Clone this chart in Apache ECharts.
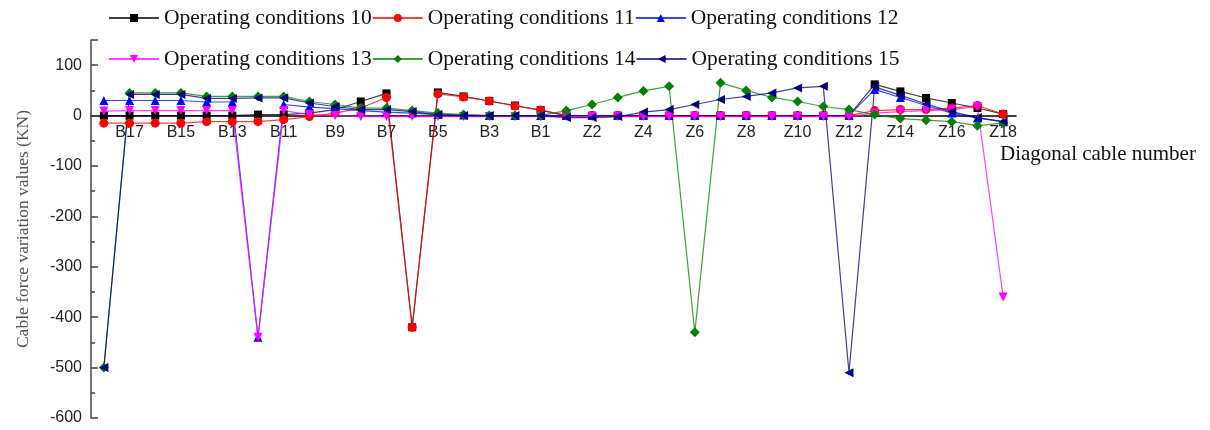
<!DOCTYPE html>
<html>
<head>
<meta charset="utf-8">
<script src="https://cdn.jsdelivr.net/npm/echarts@6/dist/echarts.min.js"></script>
<style>html,body{margin:0;padding:0;background:#fff}#c{width:1210px;height:430px}</style>
</head>
<body>
<div id="c"></div>
<script>
const categories = ['B18','B17','B16','B15','B14','B13','B12','B11','B10','B9','B8','B7','B6','B5','B4','B3','B2','B1',
  'Z1','Z2','Z3','Z4','Z5','Z6','Z7','Z8','Z9','Z10','Z11','Z12','Z13','Z14','Z15','Z16','Z17','Z18'];
const seriesNames = ['Operating conditions 10','Operating conditions 11','Operating conditions 12',
  'Operating conditions 13','Operating conditions 14','Operating conditions 15'];
const cond10 = [0,0,0,0,0,0,2,2,5,12,28,44,-420,46,38,29,20,11,0,0,0,0,0,0,0,0,0,0,0,0,62,48,35,25,15,3];
const cond11 = [-15,-15,-15,-15,-12,-12,-12,-8,-2,5,15,36,-420,43,37,29,19,11,0,0,0,0,0,0,0,0,0,0,0,0,10,12,12,15,20,3];
const cond12 = [30,30,30,30,27,27,-440,22,17,14,10,7,5,2,1,0,0,0,0,0,0,0,0,0,0,0,0,0,0,0,52,36,20,5,-5,-12];
const cond13 = [9,10,10,10,10,10,-440,10,2,0,-2,-2,-2,-2,-2,-2,-2,-2,-2,-2,-2,-2,-2,-2,-2,-2,-2,-2,-2,-2,5,8,10,12,18,-360];
const cond14 = [-500,45,45,45,38,38,38,38,28,22,15,15,10,5,2,0,0,0,10,22,36,49,58,-430,65,50,36,28,18,12,2,-6,-9,-12,-20,-15];
const cond15 = [-500,42,42,42,34,34,35,35,25,18,12,12,8,2,0,0,0,0,-4,-4,-2,7,12,22,32,38,45,55,58,-510,57,40,23,8,-4,-12];
const yTicks = {min: -600, max: 150, interval: 100};

const allData = [cond10, cond11, cond12, cond13, cond14, cond15];
const colors = ['#000000','#ff0000','#0000ff','#ff00ff','#008000','#000080'];
const symbols = ['rect','circle','triangle','triangle','diamond','triangle'];
const rotates = [0,0,0,180,0,90];
const sizes = [8,9,9,9,10,9];

const serif = 'Liberation Serif, Times New Roman, serif';
const sans = 'Liberation Sans, Arial, sans-serif';

const W = 1210, H = 430;
const grid = {left: 91, right: 194, top: 40, bottom: 12};
const plotH = H - grid.top - grid.bottom;
const zeroOffset = -plotH * (0 - yTicks.min) / (yTicks.max - yTicks.min);

const chart = echarts.init(document.getElementById('c'), null, {renderer:'canvas'});
const legendCommon = {
  left: 108, padding: 0, itemGap: 0, itemWidth: 50, itemHeight: 10,
  textStyle: {fontFamily: serif, fontSize: 21.5, color: '#111'},
  selectedMode: false
};
chart.setOption({
  animation: false,
  backgroundColor: '#fff',
  legend: [
    Object.assign({top: 7, data: seriesNames.slice(0,3)}, legendCommon),
    Object.assign({top: 48, data: seriesNames.slice(3,6)}, legendCommon)
  ],
  grid: Object.assign({outerBoundsMode: 'none', containLabel: false}, grid),
  xAxis: {
    type: 'category',
    data: categories,
    boundaryGap: true,
    position: 'bottom',
    offset: zeroOffset,
    name: 'Diagonal cable number',
    nameLocation: 'end',
    nameGap: -16,
    nameTextStyle: {fontFamily: serif, fontSize: 21, color: '#111', align: 'left', verticalAlign: 'top', padding: [28,0,0,0]},
    axisLine: {onZero: false, lineStyle: {color: '#000', width: 1.5}},
    axisTick: {show: false},
    axisLabel: {
      interval: function (i) { return i % 2 === 1; },
      fontFamily: sans, fontSize: 16, color: '#222', margin: 9
    },
    splitLine: {show: false}
  },
  yAxis: {
    type: 'value',
    min: yTicks.min, max: yTicks.max, interval: yTicks.interval,
    name: 'Cable force variation values (KN)',
    nameLocation: 'middle',
    nameGap: 59,
    nameTextStyle: {fontFamily: serif, fontSize: 17.5, color: '#555'},
    axisLine: {show: true, lineStyle: {color: '#444', width: 1.5}},
    axisTick: {show: true, inside: true, length: 7, lineStyle: {color: '#444', width: 1.5}},
    minorTick: {show: true, splitNumber: 2, length: 4, lineStyle: {color: '#444', width: 1.5}},
    axisLabel: {
      fontFamily: sans, fontSize: 16, color: '#222', margin: 9,
      formatter: function (v) { return v > 100 ? '' : String(v); }
    },
    splitLine: {show: false}
  },
  series: allData.map(function (d, i) {
    return {
      name: seriesNames[i],
      type: 'line',
      data: d,
      symbol: symbols[i],
      symbolRotate: rotates[i],
      symbolSize: sizes[i],
      showAllSymbol: true,
      itemStyle: {color: colors[i]},
      lineStyle: {color: colors[i], width: 1.2, opacity: 0.75},
      emphasis: {disabled: true}
    };
  })
});
</script>
</body>
</html>
